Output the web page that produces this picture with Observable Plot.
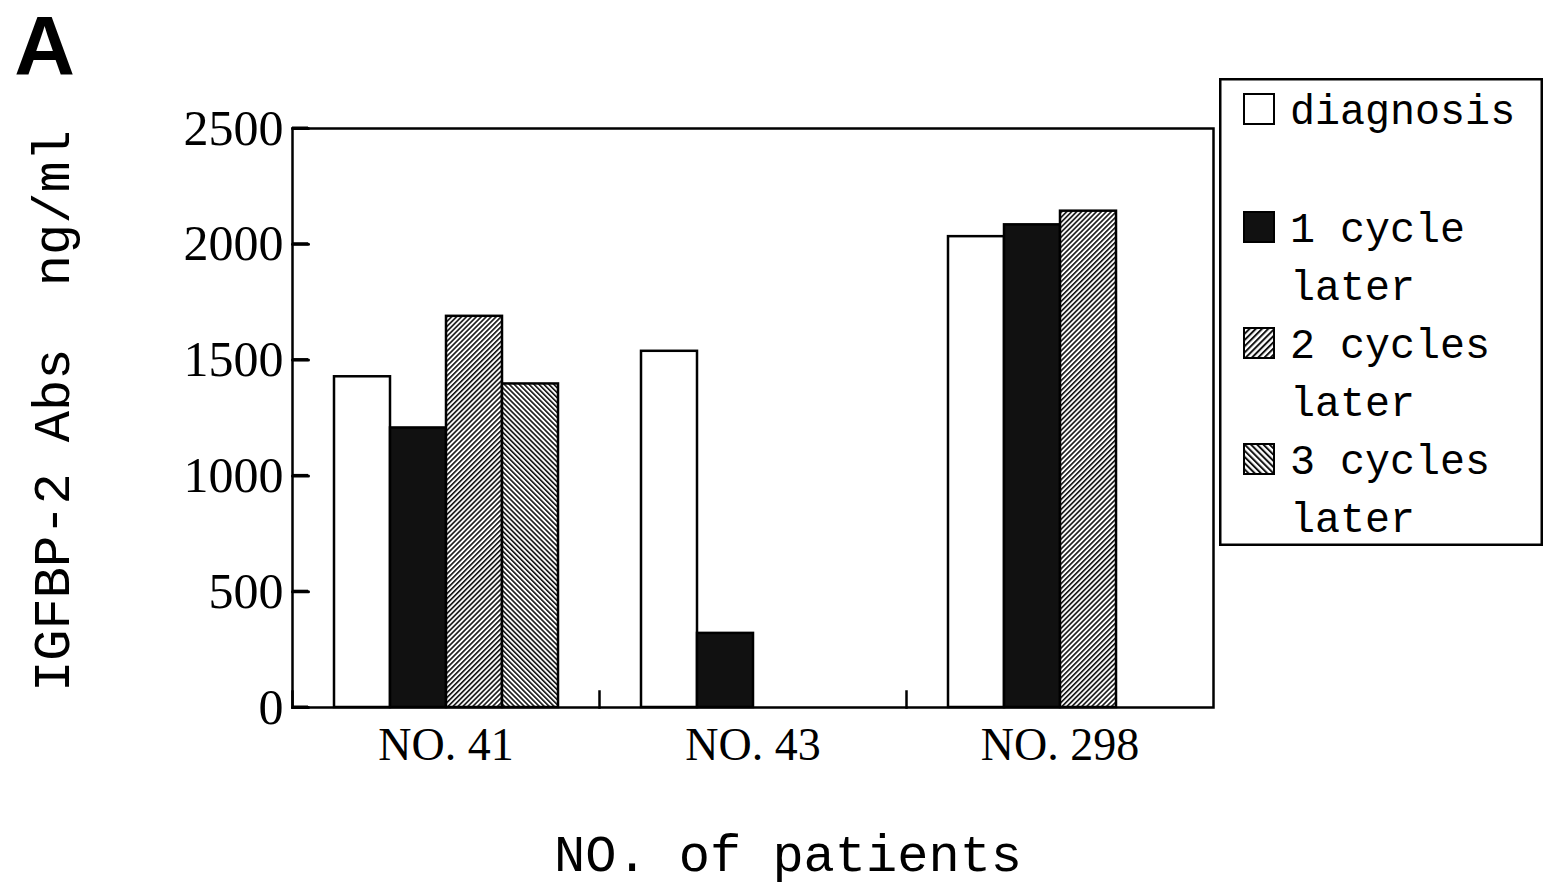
<!DOCTYPE html>
<html>
<head>
<meta charset="utf-8">
<script src="https://cdn.jsdelivr.net/npm/d3@7"></script>
<script src="https://cdn.jsdelivr.net/npm/@observablehq/plot@0.6"></script>
<style>
  body { margin: 0; background: #fff; }
  #wrap { position: relative; width: 1559px; height: 894px; overflow: hidden; }
  #legend { position: absolute; left: 1219px; top: 78px; }
</style>
</head>
<body>
<div id="wrap"></div>
<script>
// ---- data ----
const groups = ["NO. 41", "NO. 43", "NO. 298"];
const series = ["diagnosis", "1 cycle later", "2 cycles later", "3 cycles later"];
const diagnosis = [1428, 1538, 2033];
const cycle1 = [1207, 320, 2084];
const cycle2 = [1689, null, 2143];
const cycle3 = [1397, null, null];
const yTicks = [0, 500, 1000, 1500, 2000, 2500];
const yLabel = "IGFBP-2 Abs  ng/ml";
const xLabel = "NO. of patients";
const panelLabel = "A";
const legendLines = [["diagnosis"], ["1 cycle", "later"], ["2 cycles", "later"], ["3 cycles", "later"]];

const fills = ["#ffffff", "#111111", "url(#hatchR)", "url(#hatchL)"];
const valuesBySeries = [diagnosis, cycle1, cycle2, cycle3];
const data = [];
series.forEach((s, si) => groups.forEach((g, gi) => {
  const v = valuesBySeries[si][gi];
  if (v != null) data.push({group: g, series: s, value: v});
}));
const tickData = yTicks.map(v => ({group: groups[0], value: v}));

function addPatterns(defs, suffix, size, sw) {
  [["hatchR", 45], ["hatchL", -45]].forEach(([id, angle]) => {
    const p = defs.append("pattern")
      .attr("id", id + suffix)
      .attr("patternUnits", "userSpaceOnUse")
      .attr("width", size).attr("height", size)
      .attr("patternTransform", `rotate(${angle})`);
    p.append("rect").attr("width", size).attr("height", size).attr("fill", "#fff");
    p.append("line").attr("x1", sw / 2).attr("y1", 0).attr("x2", sw / 2).attr("y2", size)
      .attr("stroke", "#111").attr("stroke-width", sw);
  });
}

const defsMark = () => {
  const defs = d3.create("svg:defs");
  addPatterns(defs, "", 3.5, 1.6);
  return defs.node();
};

const tickShape = {draw(context, l) { context.moveTo(0, 0); context.lineTo(0, -l); }};
const marginLeft = 292, tickLen = 16;

const chart = Plot.plot({
  width: 1559,
  height: 894,
  marginLeft,
  marginRight: 346,
  marginTop: 128,
  marginBottom: 187,
  style: {background: "white", color: "black", overflow: "visible"},
  fx: {domain: groups, paddingInner: 0, paddingOuter: 0, label: null},
  x: {domain: series, paddingInner: 0, paddingOuter: 0.74, axis: null},
  y: {domain: [0, 2500], label: null},
  color: {type: "ordinal", domain: series, range: fills},
  marks: [
    defsMark,
    Plot.barY(data, {fx: "group", x: "series", y: "value", fill: "series", stroke: "black", strokeWidth: 2.5}),
    Plot.frame({facet: "super", stroke: "black", strokeWidth: 2.5}),
    Plot.frame({anchor: "left", insetTop: 563, stroke: "black", strokeWidth: 2.5}),
    Plot.vector(tickData, {fx: "group", y: "value", frameAnchor: "left", anchor: "start", rotate: 90,
      length: tickLen, shape: tickShape, stroke: "black", strokeWidth: 3}),
    Plot.axisY(yTicks, {anchor: "left", tickSize: 0, tickPadding: 9,
      tickFormat: d => String(d), fontSize: 50, fontFamily: "Liberation Serif", label: null}),
    Plot.axisFx({anchor: "bottom", tickSize: 0, tickPadding: 20, fontSize: 46,
      fontFamily: "Liberation Serif", label: null}),
    Plot.text([yLabel], {facet: "super", frameAnchor: "left", textAnchor: "middle", rotate: -90, dx: -240, dy: -7,
      fontSize: 52, fontFamily: "Liberation Mono", fill: "black"}),
    Plot.text([xLabel], {facet: "super", frameAnchor: "bottom", textAnchor: "middle", dx: 35, dy: 163,
      fontSize: 52, fontFamily: "Liberation Mono", fill: "black"}),
    Plot.text([panelLabel], {facet: "super", frameAnchor: "top-left", textAnchor: "middle", lineAnchor: "middle",
      dx: -248, dy: -80, fontSize: 84, fontWeight: "bold", fontFamily: "Liberation Sans", fill: "black"})
  ]
});
document.getElementById("wrap").appendChild(chart);

// inward y ticks placed with Plot's own y scale (drawn on top)
const yScale = chart.scale("y");
d3.select(chart).append("g").attr("class", "inner-ticks")
  .selectAll("line").data(yTicks).join("line")
  .attr("x1", marginLeft).attr("x2", marginLeft + tickLen)
  .attr("y1", d => yScale.apply(d)).attr("y2", d => yScale.apply(d))
  .attr("stroke", "black").attr("stroke-width", 3);

// ---- legend ----
const lw = 324, lh = 468;
const leg = d3.select("#wrap").append("svg")
  .attr("id", "legend").attr("width", lw).attr("height", lh);
const ldefs = leg.append("defs");
addPatterns(ldefs, "L", 4.4, 2);
leg.append("rect").attr("x", 1.25).attr("y", 1.25).attr("width", lw - 2.5).attr("height", lh - 2.5)
  .attr("fill", "white").attr("stroke", "black").attr("stroke-width", 2.5);
const legendFills = ["#ffffff", "#111111", "url(#hatchRL)", "url(#hatchLL)"];
legendLines.forEach((lines, i) => {
  const cy = 31 + 116 * i + (i > 0 ? 2 : 0);
  leg.append("rect").attr("x", 25).attr("y", cy - 15).attr("width", 30).attr("height", 30)
    .attr("fill", legendFills[i]).attr("stroke", "black").attr("stroke-width", 2);
  lines.forEach((t, j) => {
    leg.append("text").attr("x", 71).attr("y", cy + 58 * j).attr("dy", "0.35em")
      .attr("font-family", "Liberation Mono").attr("font-size", 41.7).attr("fill", "black")
      .text(t);
  });
});
</script>
</body>
</html>
